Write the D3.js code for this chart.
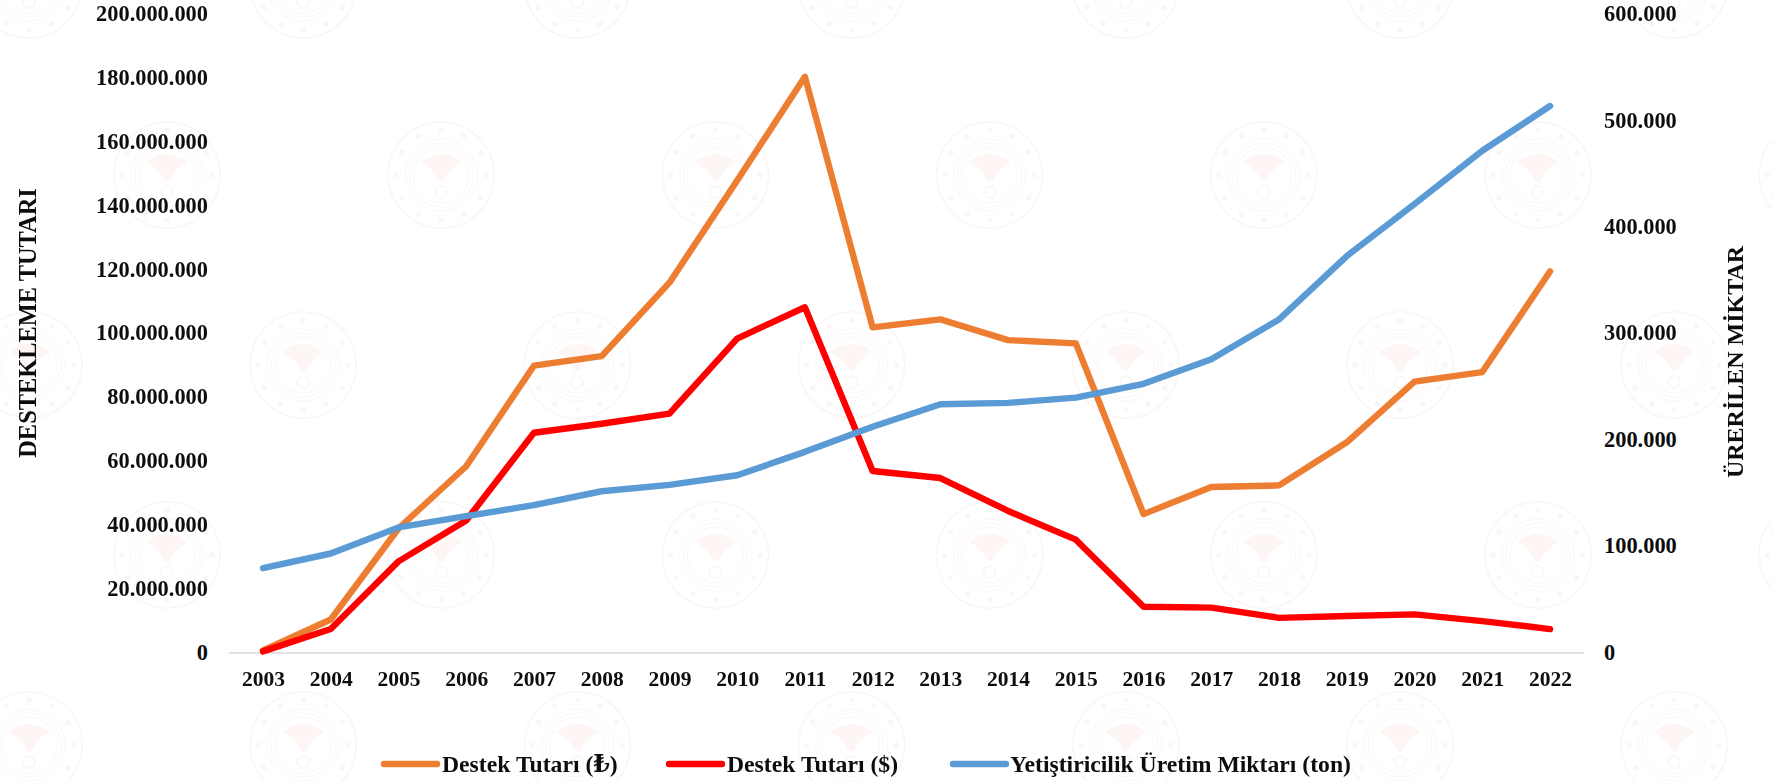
<!DOCTYPE html>
<html lang="tr">
<head>
<meta charset="utf-8">
<title>Destek Tutarı</title>
<script src="https://cdn.jsdelivr.net/npm/d3@7/dist/d3.min.js"></script>
<style>
html,body{margin:0;padding:0;background:#fff;overflow:hidden}
svg{display:block}
text{font-family:"Liberation Serif","DejaVu Serif",serif;font-weight:700;fill:#0d0d0d}
</style>
</head>
<body>
<svg id="chart" width="1772" height="781"></svg>
<script>
const years = ["2003","2004","2005","2006","2007","2008","2009","2010","2011","2012","2013","2014","2015","2016","2017","2018","2019","2020","2021","2022"];
const destekTL = [800000,10500000,39000000,58500000,90000000,93000000,116000000,148000000,180500000,102000000,104500000,98000000,97000000,43500000,52000000,52500000,66000000,85000000,88000000,119500000];
const destekUSD = [500000,7500000,28700000,41500000,69000000,71800000,75000000,98500000,108300000,57000000,54800000,44500000,35500000,14500000,14200000,11000000,11600000,12100000,10000000,7500000];
const uretim = [79700,93500,118000,128600,139000,152000,158000,167000,189000,212600,233800,235000,240000,253000,276000,313500,373000,422000,472000,514000];
const leftTicks = [0,20000000,40000000,60000000,80000000,100000000,120000000,140000000,160000000,180000000,200000000];
const rightTicks = [0,100000,200000,300000,400000,500000,600000];
const seriesNames = ["Destek Tutarı (₺)","Destek Tutarı ($)","Yetiştiricilik Üretim Miktarı (ton)"];
const seriesColors = ["#ed7d31","#ff0000","#5b9bd5"];
const leftTitle = "DESTEKLEME TUTARI";
const rightTitle = "ÜRERİLEN MİKTAR";

const svg = d3.select("#chart");
const fmt = v => String(v).replace(/\B(?=(\d{3})+(?!\d))/g, ".");

const x = d3.scalePoint().domain(years).range([263, 1550]);
const yL = d3.scaleLinear().domain([0, 200000000]).range([653, 14.5]);
const yR = d3.scaleLinear().domain([0, 600000]).range([653, 14.5]);

// watermark
const wm = svg.append("g").attr("opacity", 0.05);
const rowsY = [-15, 175, 365, 555, 745];
rowsY.forEach((cy, r) => {
  const x0 = r % 2 === 0 ? 29 : 167;
  d3.range(0, 7).forEach(i => {
    const cx = x0 + i * 274.2;
    if (cx > 1772 + 60) return;
    const g = wm.append("g").attr("transform", `translate(${cx},${cy})`);
    g.append("circle").attr("r", 53).attr("fill", "none").attr("stroke", "#b03030").attr("stroke-width", 1.6);
    [36, 32, 28].forEach(rr => g.append("circle").attr("r", rr).attr("fill", "none").attr("stroke", "#b03030").attr("stroke-width", 0.8));
    d3.range(12).forEach(k => {
      const a = k * Math.PI / 6;
      g.append("circle").attr("cx", 45 * Math.cos(a)).attr("cy", 45 * Math.sin(a)).attr("r", 2.6).attr("fill", "#a83030");
    });
    g.append("path").attr("d", "M-21,-13 Q0,-29 21,-13 Q8,-7 3,5 L0,7 L-3,5 Q-8,-7 -21,-13 Z").attr("fill", "#e8402f");
    g.append("circle").attr("cy", 17).attr("r", 6).attr("fill", "none").attr("stroke", "#b03030").attr("stroke-width", 1.6);
  });
});

// axes
const axisBottom = d3.axisBottom(x).tickSize(0).tickPadding(18);
const gx = svg.append("g").attr("transform", "translate(0,653)").call(axisBottom);
gx.select(".domain").remove();
svg.append("line").attr("x1", 229).attr("x2", 1584).attr("y1", 653).attr("y2", 653).attr("stroke", "#d9d9d9").attr("stroke-width", 1.5);
gx.selectAll("text").attr("font-size", 21.5).attr("dy", "0.71em").style("font-family", null);

const gl = svg.append("g").attr("transform", "translate(208,-1)")
  .call(d3.axisLeft(yL).tickValues(leftTicks).tickFormat(fmt).tickSize(0).tickPadding(0));
gl.select(".domain").remove();
gl.selectAll("text").attr("font-size", 22.4);

const gr = svg.append("g").attr("transform", "translate(1604,-1)")
  .call(d3.axisRight(yR).tickValues(rightTicks).tickFormat(fmt).tickSize(0).tickPadding(0));
gr.select(".domain").remove();
gr.selectAll("text").attr("font-size", 22.4);

// titles
svg.append("text").attr("transform", "translate(36,323) rotate(-90)").attr("text-anchor", "middle").attr("font-size", 24.4).text(leftTitle);
svg.append("text").attr("transform", "translate(1743,362) rotate(-90)").attr("text-anchor", "middle").attr("font-size", 24).text(rightTitle);

// lines
const lineL = d3.line().x((d, i) => x(years[i])).y(d => yL(d));
const lineR = d3.line().x((d, i) => x(years[i])).y(d => yR(d));
const lineData = [[destekTL, lineL, 0], [destekUSD, lineL, 1], [uretim, lineR, 2]];
svg.append("g").selectAll("path").data(lineData).join("path")
  .attr("d", d => d[1](d[0]))
  .attr("fill", "none")
  .attr("stroke", d => seriesColors[d[2]])
  .attr("stroke-width", 6.4)
  .attr("stroke-linecap", "round")
  .attr("stroke-linejoin", "round");

// legend
const legendX = [382, 667, 951];
const legendTextX = [60, 60, 59];
const lg = svg.append("g").selectAll("g").data(seriesNames).join("g")
  .attr("transform", (d, i) => `translate(${legendX[i]},764)`);
lg.append("line").attr("x1", 2).attr("x2", 55).attr("stroke", (d, i) => seriesColors[i])
  .attr("stroke-width", 6.4).attr("stroke-linecap", "round");
lg.append("text").attr("x", (d, i) => legendTextX[i]).attr("y", 8).attr("font-size", 23.7).text(d => d);
</script>
</body>
</html>
